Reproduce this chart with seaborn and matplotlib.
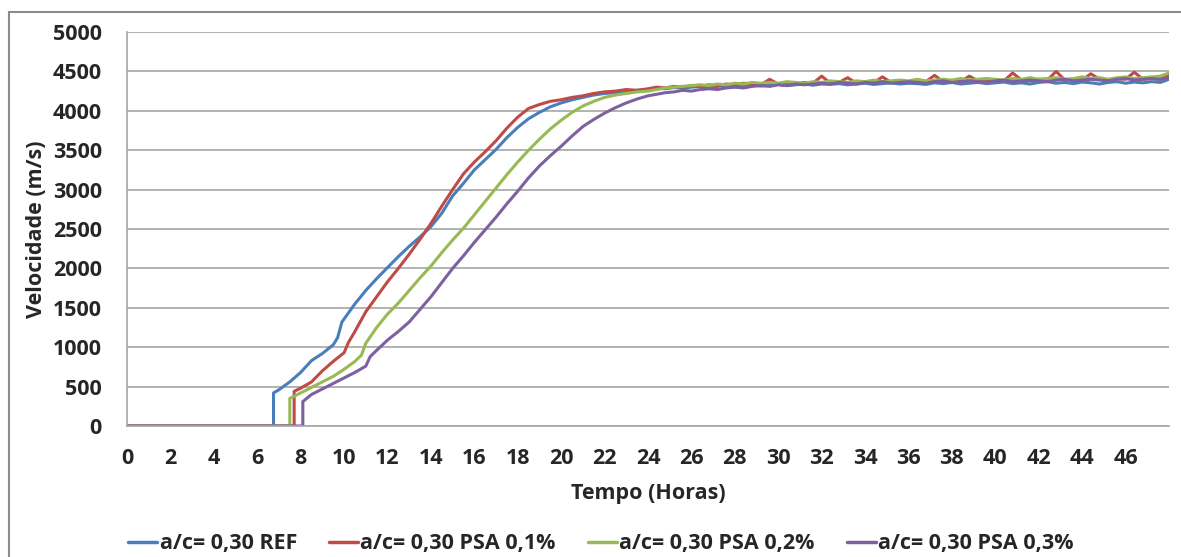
import numpy as np
import pandas as pd
import matplotlib
matplotlib.use("Agg")
import matplotlib.pyplot as plt
import seaborn as sns
from matplotlib.patches import Rectangle

# ---------------- data ----------------
series_names = ["a/c= 0,30 REF", "a/c= 0,30 PSA 0,1%", "a/c= 0,30 PSA 0,2%", "a/c= 0,30 PSA 0,3%"]
colors = ["#4A7EBB", "#BE4B48", "#98B954", "#7D60A0"]

ref_rise_t = [0, 6.75, 6.75, 7.0, 7.5, 8.0, 8.5, 9.0, 9.5, 9.7, 9.9, 10.5, 11, 11.5, 12, 12.5, 13, 13.5,
              14, 14.5, 15, 15.5, 16, 16.5, 17, 17.5, 18, 18.5, 19, 19.5, 20, 20.5, 21, 21.5, 22, 22.5, 23, 23.5]
ref_rise_v = [0, 0, 420, 460, 560, 680, 830, 920, 1030, 1120, 1320, 1550, 1720, 1870, 2010, 2150, 2280, 2400,
              2530, 2700, 2920, 3080, 3250, 3380, 3510, 3660, 3790, 3900, 3980, 4050, 4100, 4140, 4170, 4200,
              4220, 4230, 4250, 4260]
ref_plateau = [4270, 4285, 4280, 4295, 4290, 4300, 4310, 4295, 4310, 4320,
               4305, 4320, 4330, 4315, 4325, 4335, 4320, 4330, 4340, 4325,
               4340, 4335, 4345, 4330, 4340, 4350, 4335, 4345, 4355, 4340,
               4350, 4345, 4335, 4355, 4345, 4360, 4340, 4350, 4360, 4345,
               4355, 4365, 4345, 4355, 4340, 4360, 4370, 4350, 4360, 4345,
               4365, 4355, 4340, 4360, 4370, 4350, 4365, 4355, 4370, 4360, 4400]

psa1_rise_t = [0, 7.7, 7.7, 8.0, 8.5, 9.0, 9.5, 10.0, 10.2, 10.5, 11, 11.5, 12, 12.5, 13, 13.5, 14, 14.5,
               15, 15.5, 16, 16.5, 17, 17.5, 18, 18.5, 19, 19.5, 20, 20.5, 21, 21.5, 22, 22.5, 23, 23.5]
psa1_rise_v = [0, 0, 440, 480, 560, 700, 820, 930, 1060, 1200, 1450, 1640, 1830, 2000, 2180, 2370, 2570, 2790,
               3000, 3200, 3350, 3480, 3620, 3780, 3920, 4030, 4080, 4120, 4140, 4170, 4190, 4220, 4240, 4250,
               4270, 4260]
psa1_plateau = [4280, 4300, 4290, 4310, 4300, 4320, 4310, 4330, 4320, 4340,
                4330, 4350, 4340, 4330, 4400, 4340, 4350, 4340, 4360, 4350,
                4440, 4350, 4360, 4420, 4350, 4370, 4360, 4430, 4360, 4370,
                4360, 4380, 4370, 4450, 4370, 4380, 4370, 4440, 4380, 4370,
                4390, 4380, 4480, 4390, 4380, 4400, 4390, 4500, 4390, 4400,
                4390, 4470, 4400, 4390, 4410, 4400, 4490, 4400, 4410, 4400, 4450]

psa2_rise_t = [0, 7.5, 7.5, 8.0, 8.5, 9.0, 9.5, 10.0, 10.5, 10.8, 11.0, 11.5, 12, 12.5, 13, 13.5, 14, 14.5,
               15, 15.5, 16, 16.5, 17, 17.5, 18, 18.5, 19, 19.5, 20, 20.5, 21, 21.5, 22, 22.5, 23, 23.5]
psa2_rise_v = [0, 0, 350, 420, 490, 560, 630, 720, 820, 900, 1050, 1250, 1420, 1560, 1720, 1880, 2030, 2200,
               2360, 2510, 2680, 2850, 3020, 3190, 3350, 3500, 3640, 3770, 3880, 3980, 4060, 4120, 4170, 4200,
               4220, 4240]
psa2_plateau = [4250, 4270, 4290, 4300, 4310, 4320, 4330, 4320, 4340, 4330,
                4350, 4340, 4360, 4350, 4360, 4350, 4370, 4360, 4350, 4370,
                4360, 4380, 4370, 4360, 4380, 4370, 4390, 4370, 4380, 4390,
                4380, 4400, 4380, 4390, 4400, 4390, 4410, 4390, 4400, 4410,
                4400, 4390, 4410, 4400, 4420, 4400, 4410, 4420, 4400, 4410,
                4430, 4410, 4420, 4400, 4420, 4430, 4410, 4420, 4430, 4440, 4480]

psa3_rise_t = [0, 8.1, 8.1, 8.5, 9.0, 9.5, 10.0, 10.5, 11.0, 11.2, 11.5, 12, 12.5, 13, 13.5, 14, 14.5, 15,
               15.5, 16, 16.5, 17, 17.5, 18, 18.5, 19, 19.5, 20, 20.5, 21, 21.5, 22, 22.5, 23, 23.5]
psa3_rise_v = [0, 0, 310, 400, 470, 540, 610, 680, 760, 880, 960, 1090, 1200, 1320, 1480, 1640, 1820, 2000,
               2160, 2330, 2490, 2650, 2820, 2980, 3150, 3300, 3430, 3550, 3680, 3800, 3890, 3970, 4040, 4100,
               4150]
psa3_plateau = [4190, 4210, 4230, 4240, 4260, 4250, 4270, 4280, 4270, 4290,
                4300, 4290, 4310, 4320, 4310, 4330, 4320, 4340, 4330, 4340,
                4350, 4340, 4360, 4350, 4340, 4360, 4350, 4370, 4350, 4360,
                4370, 4360, 4350, 4370, 4380, 4360, 4370, 4380, 4370, 4360,
                4380, 4390, 4370, 4380, 4390, 4380, 4370, 4390, 4400, 4380,
                4390, 4400, 4390, 4380, 4400, 4410, 4390, 4400, 4410, 4400, 4420]

plateau_start, plateau_end = 24, 48
x_ticks = list(range(0, 47, 2))
y_ticks = list(range(0, 5001, 500))

# ---------------- build long table ----------------
frames = []
for name, rt, rv, pv in [
    (series_names[0], ref_rise_t, ref_rise_v, ref_plateau),
    (series_names[1], psa1_rise_t, psa1_rise_v, psa1_plateau),
    (series_names[2], psa2_rise_t, psa2_rise_v, psa2_plateau),
    (series_names[3], psa3_rise_t, psa3_rise_v, psa3_plateau),
]:
    pt = np.linspace(plateau_start, plateau_end, len(pv))
    t = list(rt) + list(pt)
    v = list(rv) + list(pv)
    frames.append(pd.DataFrame({"t": t, "v": v, "serie": name}))
df = pd.concat(frames, ignore_index=True)

# ---------------- plot ----------------
sns.set_theme(style="white")
plt.rcParams["font.family"] = ["Open Sans", "DejaVu Sans"]
plt.rcParams["font.weight"] = "bold"
FS = 15.5

fig = plt.figure(figsize=(11.81, 5.57), dpi=100)
ax = fig.add_axes([127 / 1181, 1 - 426 / 557, (1169 - 127) / 1181, (426 - 32) / 557])

sns.lineplot(data=df, x="t", y="v", hue="serie", hue_order=series_names, palette=colors,
             sort=False, estimator=None, ax=ax, linewidth=2.2, legend=True)

ax.set_xlim(0, 48)
ax.set_ylim(0, 5000)
ax.set_xticks(x_ticks)
ax.set_yticks(y_ticks)
ax.tick_params(axis="y", length=0, labelsize=FS, pad=18)
ax.tick_params(axis="x", length=0, labelsize=FS, pad=16)
for lab in ax.get_xticklabels() + ax.get_yticklabels():
    lab.set_fontweight("bold")
ax.grid(axis="y", color="#A6A6A6", linewidth=1.2)
ax.set_axisbelow(True)
for s in ["top", "right"]:
    ax.spines[s].set_visible(False)
for s in ["left", "bottom"]:
    ax.spines[s].set_color("#A6A6A6")
    ax.spines[s].set_linewidth(1.2)

ax.set_xlabel("Tempo (Horas)", fontsize=FS, fontweight="bold", labelpad=10)
ax.set_ylabel("Velocidade (m/s)", fontsize=FS, fontweight="bold", labelpad=4)

handles, labels = ax.get_legend_handles_labels()
for h in handles:
    h.set_linewidth(2.5)
ax.legend(handles, labels, loc="center", bbox_to_anchor=(601 / 1181, 1 - 544 / 557),
          bbox_transform=fig.transFigure, ncol=4, frameon=False,
          handlelength=1.35, handletextpad=0.1, columnspacing=1.5,
          prop={"weight": "bold", "size": FS})

# outer chart border
fig.add_artist(Rectangle((9 / 1181, -0.05), 1.1, 1 - 12 / 557 + 0.05, transform=fig.transFigure,
                         fill=False, edgecolor="#8C8C8C", linewidth=1.5))

fig.savefig("out.png", dpi=100)
